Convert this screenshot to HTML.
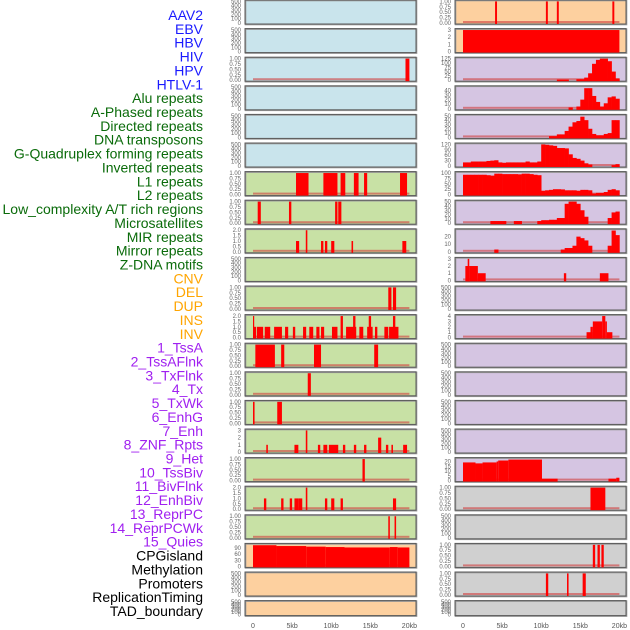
<!DOCTYPE html>
<html><head><meta charset="utf-8">
<style>
html,body{margin:0;padding:0;background:#fff;width:630px;height:630px;overflow:hidden}
svg{display:block}
.lbl{font-family:"Liberation Sans",sans-serif;font-size:14px}
.tk{font-family:"Liberation Sans",sans-serif;font-size:6px;fill:#666}
.xt{font-family:"Liberation Sans",sans-serif;font-size:7px;fill:#555}
</style></head>
<body>
<svg id="chart" width="630" height="630" viewBox="0 0 630 630"></svg>
<script>
// ---------- data ----------
const labels = ["AAV2","EBV","HBV","HIV","HPV","HTLV-1","Alu repeats","A-Phased repeats","Directed repeats","DNA transposons","G-Quadruplex forming repeats","Inverted repeats","L1 repeats","L2 repeats","Low_complexity A/T rich regions","Microsatellites","MIR repeats","Mirror repeats","Z-DNA motifs","CNV","DEL","DUP","INS","INV","1_TssA","2_TssAFlnk","3_TxFlnk","4_Tx","5_TxWk","6_EnhG","7_Enh","8_ZNF_Rpts","9_Het","10_TssBiv","11_BivFlnk","12_EnhBiv","13_ReprPC","14_ReprPCWk","15_Quies","CPGisland","Methylation","Promoters","ReplicationTiming","TAD_boundary"];
const labelGroups = ["v","v","v","v","v","v","r","r","r","r","r","r","r","r","r","r","r","r","r","s","s","s","s","s","c","c","c","c","c","c","c","c","c","c","c","c","c","c","c","o","o","o","o","o"];
const xTickValues = [0,5,10,15,20];
const xTickLabels = ["0","5kb","10kb","15kb","20kb"];
const ticks500 = [0,100,200,300,400,500];
const ticks1 = [0,0.25,0.5,0.75,1];
const ticks2 = [0,0.5,1,1.5,2];

// interval data: [startKb, endKb, value]
const hpvBars = [[19.5,20,1]];
const l1Bars = [[5.5,7.1,1],[9.0,10.8,1],[11.2,11.8,1],[12.9,13.5,1],[14.2,14.6,1],[18.8,19.7,1]];
const l2Bars = [[0.6,1.0,1],[4.6,4.9,1],[10.5,10.8,1],[10.9,11.3,1]];
const lowCxBars = [[5.5,5.9,1],[6.75,6.95,2],[8.7,9.0,1],[9.2,9.5,1],[10.0,10.4,1],[12.6,12.8,1],[19.1,19.6,1]];
const mirBars = [[17.3,17.7,1],[17.9,18.3,1]];
const mirrorBars = [[0,0.1,2],[0.05,0.4,1],[0.5,1.3,1],[1.5,2.2,1],[2.7,3.7,1],[4.1,4.5,1],[5.1,5.4,1],[6.4,6.8,1],[7.2,7.7,1],[8.1,8.5,1],[8.7,9.1,1],[10.1,10.8,1],[11.2,11.5,2],[11.9,13.2,1],[12.8,13.1,2],[13.6,14.1,1],[14.6,15.3,1],[14.8,15.1,2],[15.6,15.9,1],[16.8,17.3,1],[17.4,18.6,1],[17.9,18.2,2]];
const zdnaBars = [[0.3,2.8,1],[3.6,4.0,1],[7.8,8.7,1],[15.5,16.0,1]];
const cnvBars = [[7.0,7.4,1]];
const delBars = [[0,0.2,1],[3.1,3.7,1]];
const dupBars = [[1.7,1.9,1],[5.3,5.8,1],[6.75,6.95,3],[8.3,8.6,1],[9.0,9.5,1],[9.7,10.9,1],[11.5,11.8,1],[12.9,13.2,1],[14.2,14.5,1],[16.0,16.4,2],[17.0,17.3,1],[17.7,17.9,1],[19.2,19.7,1]];
const insBars = [[14.0,14.3,1]];
const invBars = [[1.4,1.7,1],[3.6,3.9,1],[4.7,5.0,1],[5.3,5.8,1],[5.8,6.3,1],[6.75,6.95,2],[9.2,9.5,1],[10.0,10.4,1],[11.2,11.5,1],[17.9,18.3,1]];
const tssAflnkBars = [[17.3,17.5,1],[18.1,18.3,1]];
const cnvRBars = [[0,3,104],[3,6.8,100],[6.8,9.3,97],[9.3,11.7,95],[11.7,17.5,93],[17.5,18.5,95],[18.5,20,93]];
const ebvBars = [[4.1,4.35,1],[10.6,10.85,1],[12.0,12.25,1],[19.1,19.35,1]];
const hivRBars = [[0,20,3]];
const tssABars = [[0.3,0.8,2],[0.6,0.8,3],[0.8,1.9,2],[1.9,2.9,1],[12.9,13.2,1],[17.5,18.6,1]];
const txFlnkBars = [[15.8,16.6,1],[16.3,16.6,2],[16.6,17.8,3],[17.8,18.2,4],[18.2,18.4,3],[18.4,19.1,1]];
const tssBivBars = [[0,1.6,19],[1.6,2.5,18],[2.5,4.3,19],[4.3,4.5,20],[4.5,5.8,21],[5.8,10.1,22],[10.1,12.1,2],[18.6,19.6,2],[19.6,20,3]];
const cpgBars = [[16.3,18.2,1]];
const promBars = [[16.6,16.9,1],[17.2,17.5,1],[17.7,18.0,1]];
const repBars = [[10.6,10.9,1],[13.3,13.5,1],[15.3,15.7,1]];

// histogram data: 40 bins of 0.5 kb
const hpvHist = [0,0,0,0,0,0,0,0,0,0,0,0,0,0,0,0,0,0,0,0,0,0,0,0,4,4,4,0,0,6,6,15,40,95,118,125,125,110,50,10];
const aluHist = [0,0,0,0,0,0,0,0,0,0,0,0,0,0,0,0,0,0,0,0,0,0,0,0,0,0,0,3,0,5,20,45,45,28,15,5,12,25,27,22];
const aPhasedHist = [0,0,0,0,0,0,0,0,0,0,0,0,0,0,0,0,0,0,0,0,0,0,3,3,7,7,15,25,35,38,48,40,20,8,5,5,8,10,40,40];
const directedHist = [20,20,25,25,25,25,28,30,32,20,18,20,20,20,20,20,25,20,20,25,120,118,115,112,100,100,98,65,45,40,30,15,8,0,0,0,0,0,5,10];
const dnaTransHist = [92,92,92,92,92,92,90,88,97,97,95,95,95,95,94,97,97,95,92,90,18,20,22,25,25,24,20,20,20,18,22,22,20,5,8,8,12,22,25,20];
const gQuadHist = [0,0,0,0,0,0,0,5,5,5,5,0,0,5,5,0,0,0,0,5,7,7,8,8,12,12,45,50,50,45,30,15,0,0,0,0,0,12,25,27];
const invertedHist = [0,0,0,0,0,0,0,0,3,0,0,0,0,0,0,0,0,0,0,0,0,0,0,0,0,3,5,5,8,20,18,15,8,0,0,0,0,8,28,22];

// ---------- panels (col 0 = left, col 1 = right) ----------
const panels = [
 {c:0,r:0,bg:"#c9e4ec",t:ticks500},
 {c:0,r:1,bg:"#c9e4ec",t:ticks500},
 {c:0,r:2,bg:"#c9e4ec",t:ticks1,bars:hpvBars},
 {c:0,r:3,bg:"#c9e4ec",t:ticks500},
 {c:0,r:4,bg:"#c9e4ec",t:ticks500},
 {c:0,r:5,bg:"#c9e4ec",t:ticks500},
 {c:0,r:6,bg:"#c8e1a5",t:ticks1,bars:l1Bars},
 {c:0,r:7,bg:"#c8e1a5",t:ticks1,bars:l2Bars},
 {c:0,r:8,bg:"#c8e1a5",t:ticks2,bars:lowCxBars},
 {c:0,r:9,bg:"#c8e1a5",t:ticks500},
 {c:0,r:10,bg:"#c8e1a5",t:ticks1,bars:mirBars},
 {c:0,r:11,bg:"#c8e1a5",t:ticks2,bars:mirrorBars},
 {c:0,r:12,bg:"#c8e1a5",t:ticks1,bars:zdnaBars},
 {c:0,r:13,bg:"#c8e1a5",t:ticks1,bars:cnvBars},
 {c:0,r:14,bg:"#c8e1a5",t:ticks1,bars:delBars},
 {c:0,r:15,bg:"#c8e1a5",t:[0,1,2,3],bars:dupBars},
 {c:0,r:16,bg:"#c8e1a5",t:ticks1,bars:insBars},
 {c:0,r:17,bg:"#c8e1a5",t:ticks2,bars:invBars},
 {c:0,r:18,bg:"#c8e1a5",t:ticks1,bars:tssAflnkBars},
 {c:0,r:19,bg:"#fdd09f",t:[0,30,60,90],max:108,bars:cnvRBars},
 {c:0,r:20,bg:"#fdd09f",t:ticks500},
 {c:0,r:21,bg:"#fdd09f",t:ticks500},
 {c:1,r:0,bg:"#fdd09f",t:ticks1,bars:ebvBars},
 {c:1,r:1,bg:"#fdd09f",t:[0,1,2,3],bars:hivRBars,nobase:true},
 {c:1,r:2,bg:"#d5c5e2",t:[0,25,50,75,100,125],hist:hpvHist},
 {c:1,r:3,bg:"#d5c5e2",t:[0,10,20,30,40],max:48,hist:aluHist},
 {c:1,r:4,bg:"#d5c5e2",t:[0,10,20,30,40,50],hist:aPhasedHist},
 {c:1,r:5,bg:"#d5c5e2",t:[0,30,60,90,120],hist:directedHist},
 {c:1,r:6,bg:"#d5c5e2",t:[0,25,50,75,100],hist:dnaTransHist},
 {c:1,r:7,bg:"#d5c5e2",t:[0,10,20,30,40,50],hist:gQuadHist},
 {c:1,r:8,bg:"#d5c5e2",t:[0,10,20],max:29,hist:invertedHist},
 {c:1,r:9,bg:"#d5c5e2",t:[0,1,2,3],bars:tssABars},
 {c:1,r:10,bg:"#d5c5e2",t:ticks500},
 {c:1,r:11,bg:"#d5c5e2",t:[0,1,2,3,4],bars:txFlnkBars},
 {c:1,r:12,bg:"#d5c5e2",t:ticks500},
 {c:1,r:13,bg:"#d5c5e2",t:ticks500},
 {c:1,r:14,bg:"#d5c5e2",t:ticks500},
 {c:1,r:15,bg:"#d5c5e2",t:ticks500},
 {c:1,r:16,bg:"#d5c5e2",t:[0,5,10,15,20],max:23,bars:tssBivBars},
 {c:1,r:17,bg:"#d0d0d0",t:ticks1,bars:cpgBars},
 {c:1,r:18,bg:"#d0d0d0",t:ticks500},
 {c:1,r:19,bg:"#d0d0d0",t:ticks1,bars:promBars},
 {c:1,r:20,bg:"#d0d0d0",t:ticks1,bars:repBars},
 {c:1,r:21,bg:"#d0d0d0",t:ticks500}
];

// ---------- drawing ----------
const NS = "http://www.w3.org/2000/svg";
const svg = document.getElementById("chart");
const colLeft = [245,455];
const panelW = 171;
const x0 = [253,463];
const pxPerKb = 7.82;
const rowStep = 28.6;
function xScale(c, kb){ return x0[c] + kb*pxPerKb; }
function mk(tag, attrs, parent){ const e=document.createElementNS(NS,tag); for(const k in attrs) e.setAttribute(k,attrs[k]); (parent||svg).appendChild(e); return e; }
const groupColor = {v:"#1a1aff",r:"#0a6b0a",s:"#ffa500",c:"#a020f0",o:"#000"};

labels.forEach((t,i)=>{
  const e = mk("text",{x:203,y:15+i*13.86+5,"text-anchor":"end",class:"lbl",fill:groupColor[labelGroups[i]]});
  e.textContent = t;
  
  
});

panels.forEach((p,pi)=>{
  const top = p.r*rowStep;
  const h = p.r===21 ? 15 : 24;
  const L = colLeft[p.c];
  const g = mk("g",{});
  
  
  mk("rect",{x:L+0.5,y:top+0.5,width:panelW,height:h,fill:p.bg,stroke:"#9a9a9a","stroke-width":1.6},g);
  mk("rect",{x:L,y:top,width:panelW,height:h,fill:"none",stroke:"#5a5a5a","stroke-width":1},g);
  const tmax = p.t[p.t.length-1];
  const ymax = p.max || tmax*1.02;
  const bottom = top + h - 1;
  const ph = h - 2;
  const yScale = v => bottom - (v/ymax)*ph;
  p.t.forEach(v=>{
    const e = mk("text",{x:L-4,y:yScale(v)+2,"text-anchor":"end",class:"tk"},g);
    e.textContent = (tmax===1) ? v.toFixed(2) : (tmax===2 ? v.toFixed(1) : String(v));
    
    
  });
  if(p.bars || p.hist){
    if(!p.nobase){
      const b = mk("rect",{x:xScale(p.c,0),y:bottom-2,width:20*pxPerKb,height:2,fill:"#d04040",opacity:0.6},g);
      
      
    }
  }
  if(p.bars){
    p.bars.forEach(d=>{
      const x1 = xScale(p.c,d[0]), x2 = xScale(p.c,d[1]);
      const y = yScale(d[2]);
      const e = mk("rect",{x:x1,y:y,width:Math.max(1.2,x2-x1),height:bottom-y+1,fill:"#ff0000"},g);
      
      
    });
  }
  if(p.hist){
    p.hist.forEach((v,i)=>{
      if(v<=0) return;
      const x1 = xScale(p.c,i*0.5), x2 = xScale(p.c,(i+1)*0.5);
      const y = yScale(v);
      const e = mk("rect",{x:x1,y:y,width:x2-x1+0.3,height:bottom-y+1,fill:"#ff0000"},g);
      
      
    });
  }
});

[0,1].forEach(c=>{
  xTickValues.forEach((v,i)=>{
    const e = mk("text",{x:xScale(c,v),y:628,"text-anchor":"middle",class:"xt"});
    e.textContent = xTickLabels[i];
    
    
  });
});
</script>
</body></html>
